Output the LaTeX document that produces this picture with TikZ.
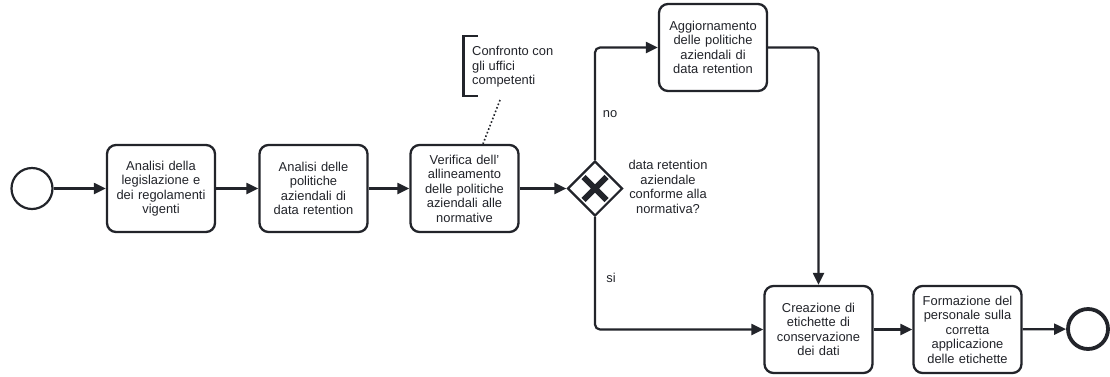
\documentclass[tikz,border=0pt]{standalone}
\usepackage{fontspec}
\setmainfont{Liberation Sans}
\usetikzlibrary{arrows.meta,shapes.geometric}
\definecolor{ink}{HTML}{22242A}
\begin{document}
\begin{tikzpicture}[x=1pt,y=-1pt,
  font=\fontsize{12.9}{14.5}\selectfont,
  every node/.style={text=ink},
  task/.style={draw=ink,line width=2.3pt,rounded corners=9pt,fill=white,
    minimum width=108pt,minimum height=87pt,align=center,inner sep=2pt,text width=104pt},
  flow/.style={draw=ink,line width=2.2pt,rounded corners=5pt,
    -{Triangle[length=12pt,width=11pt]}},
  gate/.style={diamond,draw=ink,line width=2.2pt,minimum width=55pt,minimum height=55pt,inner sep=0pt,fill=white},
  event/.style={circle,draw=ink,fill=white,inner sep=0pt}]
\useasboundingbox (0,0) rectangle (1110,376);

% events
\node[event,line width=2.2pt,minimum size=41pt] (start) at (32,188.5) {};
\node[event,line width=3.8pt,minimum size=40pt] (end) at (1088,329) {};

% tasks
\node[task] (t1) at (161,188.5) {Analisi della\\legislazione e\\dei regolamenti\\vigenti};
\node[task] (t2) at (313.5,188.5) {Analisi delle\\politiche\\aziendali di\\data retention};
\node[task] (t3) at (464.5,188.5) {Verifica dell'\\allineamento\\delle politiche\\aziendali alle\\normative};
\node[task] (t4) at (713,47.5) {Aggiornamento\\delle politiche\\aziendali di\\data retention};
\node[task,minimum width=107pt] (t5) at (818.5,329.5) {Creazione di\\etichette di\\conservazione\\dei dati};
\node[task,minimum width=107pt] (t6) at (967.5,329.5) {Formazione del\\personale sulla\\corretta\\applicazione\\delle etichette};

% exclusive gateway with its X marker
\node[gate] (gw) at (595,188.5) {};
\draw[ink,line width=5.8pt] (583.5,177) -- (606.5,200) (606.5,177) -- (583.5,200);
\node[align=center] (gwlabel) at (668,187) {data retention\\aziendale\\conforme alla\\normativa?};

% text annotation
\draw[ink,line width=2.2pt] (478,36) -- (463.5,36) -- (463.5,96) -- (478,96);
\node[anchor=west,align=left,inner sep=0pt] (note) at (472,67) {Confronto con\\gli uffici\\competenti};
\coordinate (noteend) at (500,100);
\draw[ink,line width=1.6pt,dash pattern=on 1.6pt off 2.2pt] (noteend) -- (t3.north -| 483,0);

% sequence flows
\draw[flow] (start) -- (t1);
\draw[flow] (t1) -- (t2);
\draw[flow] (t2) -- (t3);
\draw[flow] (t3) -- (gw);
\draw[flow] (gw.north) |- (t4.west);
\draw[flow] (t4.east) -| (t5.north);
\draw[flow] (gw.south) |- (t5.west);
\draw[flow] (t5) -- (t6);
\draw[flow] (t6) -- (end);

% flow labels
\node (lno) at (610,114) {no};
\node (lsi) at (611,278) {si};
\end{tikzpicture}
\end{document}
